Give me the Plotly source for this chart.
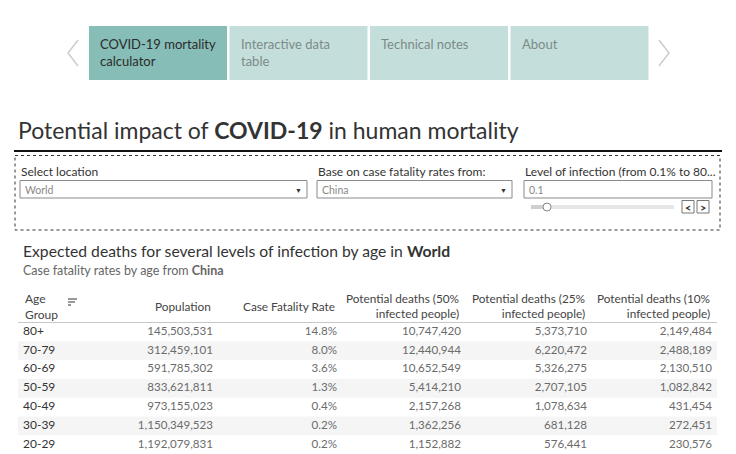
import plotly.graph_objects as go

# ---------------- data ----------------
age_groups = ["80+", "70-79", "60-69", "50-59", "40-49", "30-39", "20-29"]
population = [145503531, 312459101, 591785302, 833621811, 973155023, 1150349523, 1192079831]
cfr_pct = [14.8, 8.0, 3.6, 1.3, 0.4, 0.2, 0.2]
deaths_50 = [10747420, 12440944, 10652549, 5414210, 2157268, 1362256, 1152882]
deaths_25 = [5373710, 6220472, 5326275, 2707105, 1078634, 681128, 576441]
deaths_10 = [2149484, 2488189, 2130510, 1082842, 431454, 272451, 230576]

headers = ["Age<br>Group", "Population", "Case Fatality Rate",
           "Potential deaths (50%<br>infected people)",
           "Potential deaths (25%<br>infected people)",
           "Potential deaths (10%<br>infected people)"]
tabs = ["COVID-19 mortality<br>calculator", "Interactive data<br>table", "Technical notes", "About"]
location = "World"
cfr_source = "China"
infection_level = "0.1"

W, H = 736, 454
FONT = "Lato"
DARK = "#333333"
GREY = "#666666"

fig = go.Figure()
shapes = []
ann = []

def rect(x0, y0, x1, y1, fill=None, line=None, lw=1, dash=None, yref="y"):
    shapes.append(dict(type="rect", xref="x", yref=yref, x0=x0, y0=y0, x1=x1, y1=y1,
                       fillcolor=fill or "rgba(0,0,0,0)",
                       line=dict(color=line or "rgba(0,0,0,0)", width=lw if line else 0, dash=dash),
                       layer="below"))

def text(x, y, s, size=11, color=DARK, xanchor="left", yanchor="middle", align="left"):
    ann.append(dict(x=x, y=y, xref="x", yref="y", text=s, showarrow=False,
                    xanchor=xanchor, yanchor=yanchor, align=align,
                    font=dict(family=FONT, size=size, color=color)))

# ---------------- navigation tabs ----------------
tab_x = [89, 229.5, 370, 510.5]
tab_w = 138
for i, t in enumerate(tabs):
    active = i == 0
    rect(tab_x[i], 26, tab_x[i] + tab_w, 80, fill="#86bdb6" if active else "#c4dfdb")
    text(tab_x[i] + 9, 34, t, size=13, color="#2b2b2b" if active else "#7d8a88",
         yanchor="top")

for pts in ([(78, 40), (68, 53), (78, 66)], [(659, 40), (669, 53), (659, 66)]):
    path = "M {} {} L {} {} L {} {}".format(*pts[0], *pts[1], *pts[2])
    shapes.append(dict(type="path", xref="x", yref="y", path=path,
                       line=dict(color="#cccccc", width=1.5)))

# ---------------- title ----------------
text(16, 130, "Potential impact of <b>COVID-19</b> in human mortality", size=23, color=DARK)
shapes.append(dict(type="line", xref="x", yref="y", x0=14, x1=722, y0=151, y1=151,
                   line=dict(color="#111111", width=2)))

# ---------------- parameter box ----------------
rect(15, 155.5, 720, 230, line="#333333", lw=1, dash="dot")

controls = [(20, 307, "Select location", location, True),
            (317, 512, "Base on case fatality rates from:", cfr_source, True),
            (524, 712, "Level of infection (from 0.1% to 80...", infection_level, False)]
for x0, x1, lab, val, dd in controls:
    text(x0 - 1, 171, lab, size=12, color=DARK)
    rect(x0, 180.5, x1, 198, fill="white", line="#8a8a8a", lw=1)
    text(x0 + 3, 189.5, val, size=10.5, color="#888888")
    if dd:
        text(x1 - 9, 189.5, "▼", size=7, color="#333333", xanchor="center")

# slider
shapes.append(dict(type="line", xref="x", yref="y", x0=531, x1=674, y0=207, y1=207,
                   line=dict(color="#e6e6e6", width=4)))
shapes.append(dict(type="line", xref="x", yref="y", x0=531, x1=547, y0=207, y1=207,
                   line=dict(color="#cfcfcf", width=4)))
shapes.append(dict(type="circle", xref="x", yref="y", x0=543, x1=551, y0=203, y1=211,
                   fillcolor="white", line=dict(color="#888888", width=1)))
for bx, ch in ((682, "&lt;"), (697, "&gt;")):
    rect(bx, 200.5, bx + 12, 213, fill="white", line="#777777", lw=1)
    text(bx + 6, 207, "<b>" + ch + "</b>", size=11, color="#333333", xanchor="center")

# ---------------- table titles ----------------
text(21, 251, "Expected deaths for several levels of infection by age in <b>" + location + "</b>",
     size=15.7, color=DARK)
text(21, 270, "Case fatality rates by age from <b>" + cfr_source + "</b>", size=12.5, color=GREY)

# ---------------- table ----------------
col_right = [None, 213, 337, 461, 587, 712]
text(23, 306, headers[0], size=12, color="#444444")
for j in range(1, 6):
    text(col_right[j], 306, headers[j], size=11.8, color="#444444", xanchor="right", align="right")

# sort icon
for k, (a, b) in enumerate(((68, 77), (68, 75), (68, 71))):
    shapes.append(dict(type="line", xref="x", yref="y", x0=a, x1=b, y0=299 + k * 3, y1=299 + k * 3,
                       line=dict(color="#555555", width=1.2)))

shapes.append(dict(type="line", xref="x", yref="y", x0=18, x1=717, y0=322.5, y1=322.5,
                   line=dict(color="#c8c8c8", width=1)))

# row shading on the category axis
for i in range(len(age_groups)):
    if i % 2 == 1:
        shapes.append(dict(type="rect", xref="x", yref="y2", x0=18, x1=717,
                           y0=i - 0.5, y1=i + 0.5, fillcolor="#f5f5f5",
                           line=dict(width=0), layer="below"))

fmt_int = lambda v: "{:,}".format(v)
columns = [
    [fmt_int(v) for v in population],
    ["{:.1f}%".format(v) for v in cfr_pct],
    [fmt_int(v) for v in deaths_50],
    [fmt_int(v) for v in deaths_25],
    [fmt_int(v) for v in deaths_10],
]

fig.add_trace(go.Scatter(x=[23] * len(age_groups), y=age_groups, mode="text",
                         text=age_groups, textposition="middle right",
                         textfont=dict(family=FONT, size=12, color=DARK),
                         xaxis="x", yaxis="y2", hoverinfo="skip", showlegend=False))
for j, vals in enumerate(columns, start=1):
    fig.add_trace(go.Scatter(x=[col_right[j]] * len(vals), y=age_groups, mode="text",
                             text=vals, textposition="middle left",
                             textfont=dict(family=FONT, size=11.6, color="#6b6b6b"),
                             xaxis="x", yaxis="y2", hoverinfo="skip", showlegend=False))

rows_top = 322.5
fig.update_layout(
    width=W, height=H, margin=dict(l=0, r=0, t=0, b=0),
    paper_bgcolor="white", plot_bgcolor="white",
    xaxis=dict(range=[0, W], visible=False, fixedrange=True),
    yaxis=dict(range=[H, 0], visible=False, fixedrange=True, domain=[0, 1]),
    yaxis2=dict(type="category", categoryorder="array", categoryarray=age_groups,
                range=[len(age_groups) - 0.5, -0.5], visible=False, fixedrange=True,
                domain=[0, (H - rows_top) / H], anchor="x"),
    shapes=shapes, annotations=ann, showlegend=False,
)
fig.write_html("out.html", config={"displayModeBar": False},
               post_script="document.body.style.margin='0';document.body.style.overflow='hidden';")
